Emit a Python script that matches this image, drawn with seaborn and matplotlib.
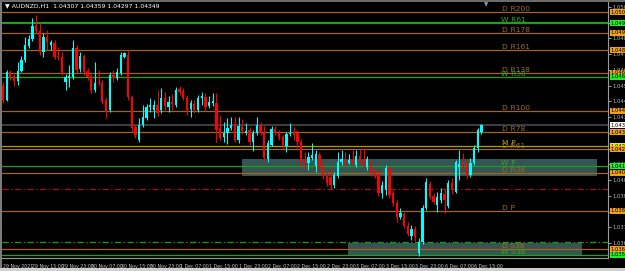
import matplotlib
matplotlib.use("Agg")
import matplotlib.pyplot as plt
import seaborn as sns
import numpy as np
import pandas as pd
from matplotlib.patches import Rectangle
from matplotlib import font_manager

# ---------------- data ----------------
title_text = "AUDNZD,H1  1.04307 1.04359 1.04297 1.04349"

opens = [1.04584, 1.04500, 1.04668, 1.04644, 1.04614, 1.04674, 1.04740, 1.04824, 1.04866, 1.04950,
         1.04914, 1.04788, 1.04878, 1.04830, 1.04842, 1.04764, 1.04758, 1.04608, 1.04632, 1.04638,
         1.04812, 1.04686, 1.04764, 1.04674, 1.04644, 1.04560, 1.04608, 1.04602, 1.04500, 1.04440,
         1.04650, 1.04632, 1.04662, 1.04758, 1.04770, 1.04518, 1.04338, 1.04260, 1.04350, 1.04392,
         1.04458, 1.04440, 1.04470, 1.04440, 1.04512, 1.04458, 1.04488, 1.04470, 1.04566, 1.04554,
         1.04512, 1.04446, 1.04476, 1.04440, 1.04512, 1.04518, 1.04464, 1.04482, 1.04482, 1.04332,
         1.04278, 1.04302, 1.04332, 1.04350, 1.04260, 1.04338, 1.04302, 1.04320, 1.04248, 1.04302,
         1.04350, 1.04302, 1.04146, 1.04230, 1.04326, 1.04308, 1.04278, 1.04224, 1.04296, 1.04302,
         1.04302, 1.04248, 1.04134, 1.04122, 1.04152, 1.04104, 1.04170, 1.04098, 1.04044, 1.04038,
         1.03990, 1.04044, 1.04128, 1.04146, 1.04122, 1.04140, 1.04110, 1.04164, 1.04140, 1.04098,
         1.04110, 1.04068, 1.04056, 1.03942, 1.03960, 1.04092, 1.03942, 1.03882, 1.03798, 1.03816,
         1.03744, 1.03684, 1.03726, 1.03582, 1.03648, 1.03852, 1.03996, 1.03924, 1.03870, 1.03900,
         1.03936, 1.03864, 1.04002, 1.03948, 1.04098, 1.04116, 1.04122, 1.04050, 1.04122, 1.04212,
         1.04307]
highs = [1.04608, 1.04680, 1.04680, 1.04662, 1.04728, 1.04764, 1.04878, 1.04890, 1.04992, 1.05010,
         1.04962, 1.04902, 1.04920, 1.04860, 1.04860, 1.04818, 1.04788, 1.04656, 1.04710, 1.04860,
         1.04830, 1.04788, 1.04776, 1.04692, 1.04656, 1.04728, 1.04680, 1.04620, 1.04518, 1.04668,
         1.04680, 1.04692, 1.04788, 1.04788, 1.04800, 1.04530, 1.04350, 1.04392, 1.04470, 1.04476,
         1.04512, 1.04500, 1.04560, 1.04572, 1.04548, 1.04524, 1.04536, 1.04578, 1.04584, 1.04572,
         1.04530, 1.04500, 1.04500, 1.04530, 1.04548, 1.04542, 1.04524, 1.04542, 1.04542, 1.04410,
         1.04368, 1.04392, 1.04398, 1.04398, 1.04398, 1.04386, 1.04362, 1.04338, 1.04320, 1.04398,
         1.04368, 1.04344, 1.04260, 1.04344, 1.04344, 1.04320, 1.04290, 1.04308, 1.04362, 1.04338,
         1.04320, 1.04266, 1.04188, 1.04188, 1.04242, 1.04200, 1.04188, 1.04116, 1.04068, 1.04092,
         1.04068, 1.04188, 1.04200, 1.04188, 1.04176, 1.04200, 1.04200, 1.04206, 1.04212, 1.04164,
         1.04140, 1.04092, 1.04080, 1.04014, 1.04110, 1.04104, 1.03960, 1.03900, 1.03852, 1.03828,
         1.03768, 1.03750, 1.03744, 1.03672, 1.03870, 1.04032, 1.04014, 1.03942, 1.03948, 1.03972,
         1.03966, 1.04020, 1.04032, 1.04140, 1.04200, 1.04182, 1.04140, 1.04152, 1.04230, 1.04332,
         1.04359]
lows = [1.04482, 1.04494, 1.04620, 1.04584, 1.04590, 1.04668, 1.04728, 1.04812, 1.04854, 1.04902,
        1.04770, 1.04758, 1.04800, 1.04800, 1.04746, 1.04740, 1.04650, 1.04560, 1.04578, 1.04626,
        1.04662, 1.04668, 1.04650, 1.04620, 1.04542, 1.04548, 1.04590, 1.04476, 1.04392, 1.04428,
        1.04608, 1.04620, 1.04650, 1.04752, 1.04500, 1.04308, 1.04272, 1.04248, 1.04338, 1.04380,
        1.04428, 1.04392, 1.04404, 1.04422, 1.04440, 1.04428, 1.04440, 1.04458, 1.04530, 1.04500,
        1.04410, 1.04398, 1.04422, 1.04428, 1.04470, 1.04440, 1.04452, 1.04464, 1.04248, 1.04260,
        1.04248, 1.04236, 1.04320, 1.04248, 1.04242, 1.04296, 1.04290, 1.04230, 1.04194, 1.04290,
        1.04290, 1.04134, 1.04128, 1.04224, 1.04290, 1.04260, 1.04212, 1.04188, 1.04284, 1.04260,
        1.04212, 1.04098, 1.04092, 1.04080, 1.04140, 1.04068, 1.04080, 1.04026, 1.03984, 1.03966,
        1.03972, 1.04032, 1.04110, 1.04104, 1.04116, 1.04110, 1.04098, 1.04116, 1.04098, 1.04080,
        1.04044, 1.04032, 1.03924, 1.03912, 1.03930, 1.03912, 1.03864, 1.03768, 1.03786, 1.03732,
        1.03684, 1.03660, 1.03654, 1.03564, 1.03636, 1.03840, 1.03906, 1.03876, 1.03828, 1.03882,
        1.03822, 1.03852, 1.03936, 1.03942, 1.04020, 1.04080, 1.04032, 1.04038, 1.04110, 1.04188,
        1.04297]
closes = [1.04500, 1.04668, 1.04638, 1.04614, 1.04674, 1.04740, 1.04830, 1.04866, 1.04944, 1.04914,
          1.04788, 1.04878, 1.04848, 1.04848, 1.04758, 1.04758, 1.04668, 1.04638, 1.04644, 1.04812,
          1.04680, 1.04764, 1.04668, 1.04638, 1.04560, 1.04602, 1.04602, 1.04488, 1.04428, 1.04650,
          1.04632, 1.04668, 1.04770, 1.04782, 1.04518, 1.04332, 1.04290, 1.04350, 1.04398, 1.04458,
          1.04470, 1.04470, 1.04422, 1.04512, 1.04464, 1.04488, 1.04476, 1.04560, 1.04548, 1.04512,
          1.04440, 1.04482, 1.04440, 1.04512, 1.04524, 1.04458, 1.04488, 1.04494, 1.04320, 1.04272,
          1.04302, 1.04332, 1.04350, 1.04260, 1.04344, 1.04314, 1.04314, 1.04248, 1.04302, 1.04350,
          1.04302, 1.04152, 1.04242, 1.04326, 1.04302, 1.04278, 1.04230, 1.04296, 1.04302, 1.04290,
          1.04248, 1.04128, 1.04122, 1.04158, 1.04170, 1.04176, 1.04098, 1.04044, 1.04002, 1.03990,
          1.04050, 1.04128, 1.04146, 1.04122, 1.04140, 1.04128, 1.04164, 1.04128, 1.04110, 1.04146,
          1.04062, 1.04050, 1.03942, 1.03990, 1.04092, 1.03930, 1.03882, 1.03798, 1.03822, 1.03744,
          1.03696, 1.03726, 1.03678, 1.03648, 1.03852, 1.04008, 1.03918, 1.03888, 1.03918, 1.03942,
          1.03900, 1.04002, 1.03960, 1.04128, 1.04116, 1.04104, 1.04050, 1.04122, 1.04212, 1.04320,
          1.04349]

time_tick_bars = [0, 8, 16, 24, 32, 40, 48, 56, 64, 72, 80, 88, 96, 104, 112, 120, 128]
time_tick_labels = ["29 Nov 2021", "29 Nov 15:00", "29 Nov 23:00", "30 Nov 07:00", "30 Nov 15:00",
                    "30 Nov 23:00", "1 Dec 07:00", "1 Dec 15:00", "1 Dec 23:00", "2 Dec 07:00",
                    "2 Dec 15:00", "2 Dec 23:00", "3 Dec 07:00", "3 Dec 15:00", "3 Dec 23:00",
                    "6 Dec 07:00", "6 Dec 15:00"]

price_ticks = [1.03642, 1.03737, 1.03831, 1.03926, 1.04020, 1.04115, 1.04209, 1.04304,
               1.04398, 1.04493, 1.04587, 1.04682, 1.04776, 1.04871, 1.04965, 1.05060]

level_names = ["D_R200", "W_R61", "D_R178", "D_R161", "D_R138", "W_R38", "D_R100", "D_R78",
               "M_P", "D_R61", "W_P", "D_R38", "D_P", "D_S38", "W_S38"]
level_prices = [1.05028, 1.04962, 1.04902, 1.04800, 1.04662, 1.04638, 1.04434, 1.04308,
                1.04224, 1.04206, 1.04104, 1.04062, 1.03834, 1.03606, 1.03570]
level_kinds = ["D", "W", "D", "D", "D", "W", "D", "D", "M", "D", "W", "D", "D", "D", "W"]

extra_line_prices = [1.03966, 1.03648]
extra_line_kinds = ["red", "green"]

zone_start = [65.0, 93.8]
zone_end = [161.5, 157.4]
zone_top = [1.04146, 1.03642]
zone_bottom = [1.04044, 1.03570]

# ---------------- style ----------------
sns.set_theme(style="dark", rc={"axes.facecolor": "black", "figure.facecolor": "black",
                                "axes.edgecolor": "#8a8a8a", "axes.grid": False})
plt.rcParams["font.family"] = ["DejaVu Sans"]

installed = {f.name for f in font_manager.fontManager.ttflist}
narrow = "Liberation Sans Narrow" if "Liberation Sans Narrow" in installed else "DejaVu Sans"
small_size = 4.0 if narrow != "DejaVu Sans" else 3.4

W, H = 625, 271
fig = plt.figure(figsize=(W / 100, H / 100), dpi=100)
ax = fig.add_axes([2 / W, 1 - 258 / H, (608 - 2) / W, (258 - 2) / H])
ax.set_facecolor("black")

df = pd.DataFrame({"open": opens, "high": highs, "low": lows, "close": closes})
df["bar"] = np.arange(len(df))
df["up"] = df["close"] >= df["open"]

line_col = {"D": "#a2661a", "W": "#10a810", "M": "#a8a000"}
text_col = {"D": "#9c6c22", "W": "#3aa02c", "M": "#b0a400"}
box_col = {"D": "#f0a018", "W": "#22ee22", "M": "#f0f000"}

# zones
for xs, xe, yt, yb in zip(zone_start, zone_end, zone_top, zone_bottom):
    ax.add_patch(Rectangle((xs, yb), xe - xs, yt - yb, facecolor="#3a5c5c",
                           edgecolor="none", alpha=0.92, zorder=0.5))

# level lines
for name, p, k in zip(level_names, level_prices, level_kinds):
    lw = 1.5 if name == "W_R61" else 0.9
    ax.axhline(p, color=line_col[k], lw=lw, zorder=1)
    ax.text(135.3, p + 0.00002, name, color=text_col[k], fontsize=5.4,
            ha="left", va="bottom", zorder=1.2)

for p, k in zip(extra_line_prices, extra_line_kinds):
    c = "#a01414" if k == "red" else "#14a014"
    ax.axhline(p, color=c, lw=0.9, ls=(0, (5, 2, 1, 2)), zorder=1)

# current price line
last_close = closes[-1]
ax.axhline(last_close, color="#3a4048", lw=1.4, zorder=0.8)

# candles
bull_c, bear_c = "#00ffff", "#ff0000"
colors = np.where(df["up"], bull_c, bear_c)
ax.vlines(df["bar"], df["low"], df["high"], colors=colors, lw=0.75, zorder=2)
body_low = np.minimum(df["open"], df["close"])
body_h = np.maximum(np.abs(df["close"] - df["open"]), 0.00005)
ax.bar(df["bar"], body_h, bottom=body_low, width=0.62, color=colors,
       edgecolor="none", zorder=2.5)

ax.set_xlim(-0.27, 164.4)
ax.set_ylim(1.03552, 1.05088)

# axes ticks
ax.yaxis.tick_right()
ax.set_yticks(price_ticks)
ax.set_yticklabels([f"{p:.5f}" for p in price_ticks], family=narrow)
ax.tick_params(axis="y", colors="#b8b8b8", labelsize=small_size + 0.4, length=2, width=0.6, pad=1.5)
ax.set_xticks(time_tick_bars)
ax.set_xticklabels(time_tick_labels, ha="left", family=narrow)
ax.tick_params(axis="x", colors="#c8c8c8", labelsize=small_size, length=2.5, width=0.6, pad=1.5)
for lab in ax.get_xticklabels():
    lab.set_horizontalalignment("left")

for s in ["left", "top"]:
    ax.spines[s].set_visible(False)
for s in ["right", "bottom"]:
    ax.spines[s].set_color("#9a9a9a")
    ax.spines[s].set_linewidth(0.8)

# right-side price boxes
tr = ax.get_yaxis_transform()
for p, k in zip(level_prices, level_kinds):
    ax.text(1.004, p, f"{p:.5f}", transform=tr, fontsize=small_size + 0.4, color="black",
            family=narrow, ha="left", va="center", clip_on=False, zorder=5,
            bbox=dict(boxstyle="square,pad=0.15", fc=box_col[k], ec="none"))
ax.text(1.004, last_close, f"{last_close:.5f}", transform=tr, fontsize=small_size + 0.4,
        color="black", family=narrow, ha="left", va="center", clip_on=False, zorder=5,
        bbox=dict(boxstyle="square,pad=0.15", fc="white", ec="none"))

# title
ax.text(0.005, 0.984, "\u25BC " + title_text, transform=ax.transAxes, fontsize=4.4,
        color="white", ha="left", va="center", zorder=6)
# chart shift marker
ax.text((486 - 2) / 606, 1.0, "\u25BC", transform=ax.transAxes, fontsize=4, color="#8898a8",
        ha="center", va="top", clip_on=False, zorder=6)

# window frame
fig.patches.append(Rectangle((0, 0), 2 / W, 1, transform=fig.transFigure,
                             facecolor="#7c7c7c", edgecolor="none"))
fig.patches.append(Rectangle((0, 1 - 2 / H), 1, 2 / H, transform=fig.transFigure,
                             facecolor="#6c6c6c", edgecolor="none"))
fig.patches.append(Rectangle((0, 0), 1, 3 / H, transform=fig.transFigure,
                             facecolor="#cfcfcf", edgecolor="none"))

fig.savefig("out.png", dpi=100, facecolor="black")
